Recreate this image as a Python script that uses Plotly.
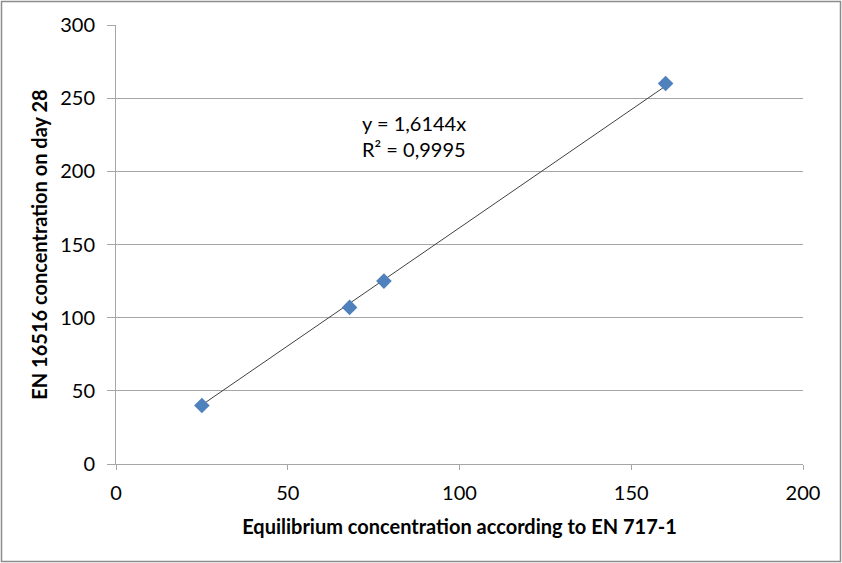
import plotly.graph_objects as go

x_vals = [25, 68, 78, 160]
y_vals = [40, 107, 125, 260]
slope = 1.6144
r2_label = "0,9995"
slope_label = "1,6144"

x_title = "Equilibrium concentration according to EN 717-1"
y_title = "EN 16516 concentration on day 28"

W, H = 842, 563
L, R, T, B = 116, 39, 25, 99

FONT = "Lato, Carlito, Calibri, sans-serif"
GRID = "#a6a6a6"

fig = go.Figure()

x_line = [min(x_vals), max(x_vals)]
fig.add_trace(go.Scatter(
    x=x_line, y=[slope * v for v in x_line], mode="lines",
    line=dict(color="#404040", width=1), hoverinfo="skip", showlegend=False))

fig.add_trace(go.Scatter(
    x=x_vals, y=y_vals, mode="markers",
    marker=dict(symbol="diamond", size=12, color="#4F81BD",
                line=dict(width=0)),
    showlegend=False))

fig.add_annotation(
    x=71, y=224, xref="x", yref="y", xanchor="left", yanchor="middle",
    text=f"y = {slope_label}x<br>R² = {r2_label}", showarrow=False, align="left",
    font=dict(family=FONT, size=20, color="#000000"))

pw = W - L - R
ph = H - T - B
fig.add_shape(type="rect", xref="paper", yref="paper",
              x0=(1.5 - L) / pw, x1=(W - 1.5 - L) / pw,
              y0=-(B - 1.5) / ph, y1=1 + (T - 1.5) / ph,
              line=dict(color="#8c8c8c", width=1.5), layer="below")

fig.update_layout(
    width=W, height=H,
    margin=dict(l=L, r=R, t=T, b=B),
    paper_bgcolor="white", plot_bgcolor="white",
    font=dict(family=FONT, size=20, color="#000000"),
    xaxis=dict(range=[0, 200], dtick=50, tick0=0, showgrid=False, zeroline=False,
               showline=True, linecolor=GRID, linewidth=1,
               ticks="outside", ticklen=5, tickcolor=GRID, ticklabelstandoff=6,
               title=dict(text=f"<b>{x_title}</b>", font=dict(size=20), standoff=16)),
    yaxis=dict(range=[0, 300], dtick=50, tick0=0, showgrid=True, gridcolor=GRID,
               gridwidth=1, zeroline=False,
               showline=True, linecolor=GRID, linewidth=1,
               ticks="outside", ticklen=8, tickcolor=GRID, ticklabelstandoff=8,
               title=dict(text=f"<b>{y_title}</b>", font=dict(size=20), standoff=7)),
)

fig.write_html("out.html", config={"displayModeBar": False},
               post_script="document.body.style.margin='0';")
